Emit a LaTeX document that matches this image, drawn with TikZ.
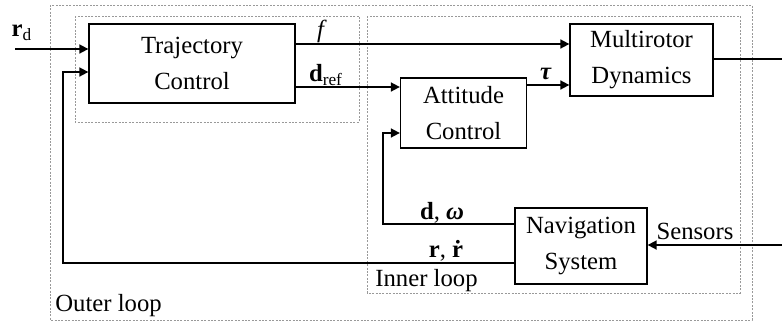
\documentclass[tikz,border=0pt]{standalone}
\usepackage{fontspec}
\setmainfont{Liberation Serif}
\usetikzlibrary{arrows.meta}
\begin{document}
\begin{tikzpicture}[x=0.5pt,y=-0.5pt,
  font=\fontsize{12.35}{18}\selectfont,
  block/.style={draw, line width=0.65pt, align=center, inner sep=0pt},
  region/.style={draw=black!40, line width=0.3pt, dash pattern=on 1pt off 0.7pt},
  sig/.style={line width=0.85pt},
  arr/.style={sig, -{Triangle[length=4.5pt,width=4.5pt]}},
  lbl/.style={inner sep=0pt}]
\useasboundingbox (0,0) rectangle (782,322);

% loop regions
\draw[region] (50,5) rectangle (752,320);
\draw[region] (75,16) rectangle (359,122);
\draw[region] (367,16) rectangle (740,293);
\node[lbl, anchor=west] (outer) at (55,306) {Outer loop};
\node[lbl, anchor=west] (inner) at (375,281) {Inner loop};

% blocks
\node[block, minimum width=103pt, minimum height=39.5pt] (tc) at (192,63.5) {Trajectory\\Control};
\node[block, minimum width=71.5pt, minimum height=36pt] (md) at (641.5,60) {Multirotor\\Dynamics};
\node[block, minimum width=63pt, minimum height=35pt] (ac) at (463.5,113) {Attitude\\Control};
\node[block, minimum width=66pt, minimum height=38pt] (nav) at (581,246) {Navigation\\System};

% free ends and corners
\coordinate (rdin) at (15,49);
\coordinate (tcfb) at (89,72);
\coordinate (fbx) at (63,72);
\coordinate (navr) at (647,263);
\coordinate (acfb) at (383,133);
\coordinate (navd) at (515,224);
\coordinate (mdout) at (782,59);
\coordinate (sens) at (782,245);

% signals
\draw[arr] (rdin) -- (tc.west |- rdin);
\draw[arr] (nav.west |- navr) -| (fbx) -- (tc.west |- tcfb);
\draw[arr] (tc.east |- 0,44) -- (md.west |- 0,44);
\draw[arr] (tc.east |- 0,87) -- (ac.west |- 0,87);
\draw[arr] (nav.west |- navd) -| (acfb) -- (ac.west |- acfb);
\draw[arr] (ac.east |- 0,85) -- (md.west |- 0,85);
\draw[sig] (md.east |- mdout) -- (mdout);
\draw[arr] (sens) -- (nav.east |- sens);

% signal labels
\node[lbl] (rd) at (22,33) {\textbf{r}\textsubscript{d}};
\node[lbl] (f) at (322,31) {\textit{f}};
\node[lbl] (dref) at (326,75) {\textbf{d}\textsubscript{ref}};
\node[lbl] (tau) at (546,74) {\textbf{\textit{τ}}};
\node[lbl] (dw) at (442,213) {\textbf{d}, \textbf{\textit{ω}}};
\node[lbl] (rr) at (446,251) {\textbf{r}, \textbf{ṙ}};
\node[lbl] (sn) at (695,231) {Sensors};
\end{tikzpicture}
\end{document}
